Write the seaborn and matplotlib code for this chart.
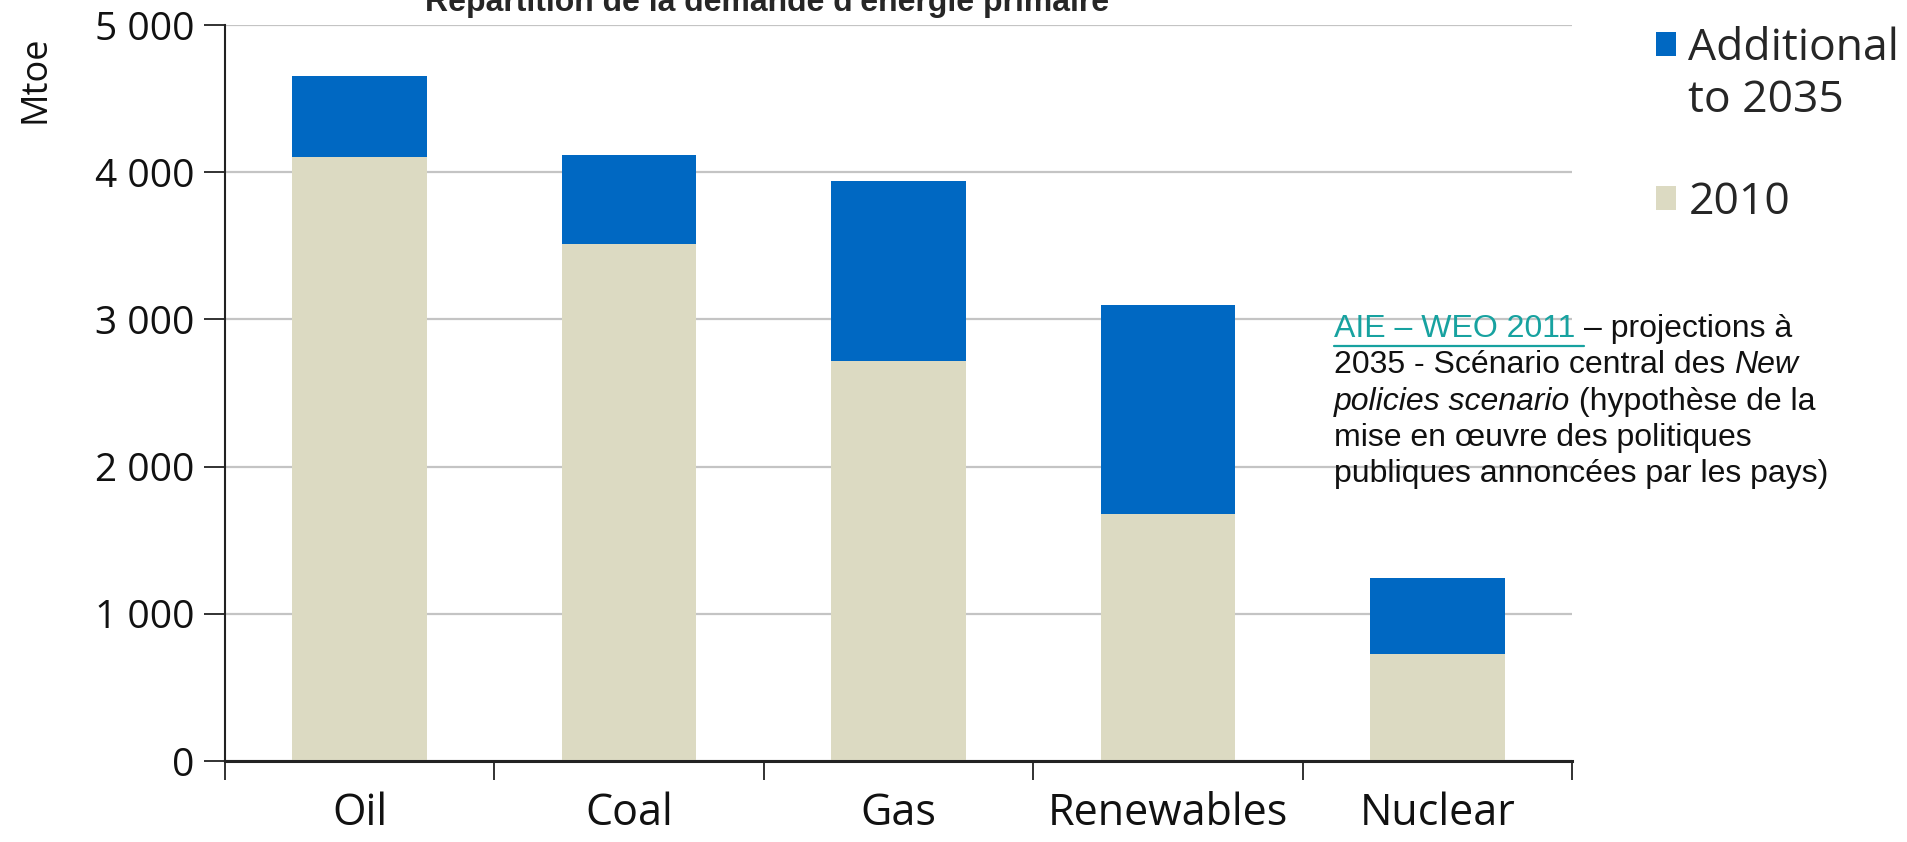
import matplotlib
matplotlib.use("Agg")
import matplotlib.pyplot as plt
import seaborn as sns
import pandas as pd
from matplotlib.patches import Patch, Rectangle
from matplotlib.legend_handler import HandlerPatch

# Données (Mtoe)
categories = ["Oil", "Coal", "Gas", "Renewables", "Nuclear"]
demand_2010 = [4100, 3510, 2720, 1680, 725]
demand_2035 = [4655, 4120, 3940, 3100, 1240]
y_ticks = [0, 1000, 2000, 3000, 4000, 5000]
y_tick_labels = ["0", "1 000", "2 000", "3 000", "4 000", "5 000"]

blue = "#0068C2"
beige = "#DCDAC2"

sns.set_theme(style="white")
plt.rcParams["font.family"] = ["Open Sans", "DejaVu Sans"]

df = pd.DataFrame({"energy": categories, "y2010": demand_2010, "y2035": demand_2035})

W, H = 1907, 842
fig = plt.figure(figsize=(W / 100, H / 100), dpi=100)
ax = fig.add_axes([225 / W, 81 / H, (1572 - 225) / W, (761 - 25) / H])

# total 2035 en bleu, puis 2010 par-dessus
sns.barplot(data=df, x="energy", y="y2035", color=blue, width=0.5, saturation=1, ax=ax, zorder=3)
sns.barplot(data=df, x="energy", y="y2010", color=beige, width=0.5, saturation=1, ax=ax, zorder=3)
for p in ax.patches:
    p.set_edgecolor("none")

ax.set_xlim(-0.5, 4.5)
ax.set_ylim(0, 5000)
ax.set_yticks(y_ticks)
ax.set_yticklabels(y_tick_labels, fontsize=28, color="#111111")
ax.yaxis.grid(True, color="#c4c4c4", linewidth=1.6, zorder=0)
ax.xaxis.grid(False)

# ticks x aux frontières, labels au centre
ax.set_xticks([-0.5, 0.5, 1.5, 2.5, 3.5, 4.5])
ax.set_xticklabels([])
ax.set_xticks(range(len(categories)), minor=True)
ax.set_xticklabels(categories, minor=True, fontsize=31, color="#111111")
ax.tick_params(axis="x", which="major", direction="out", length=14, width=1.3, color="#222222", bottom=True)
ax.tick_params(axis="x", which="minor", length=0, pad=22)
ax.tick_params(axis="y", direction="out", length=15, width=1.3, color="#222222", left=True, pad=7)

ax.set_xlabel("")
ax.set_ylabel("")
fig.text(36 / W, 1 - 79 / H, "Mtoe", rotation=90, ha="center", va="center",
         fontsize=26, color="#111111")

for side in ["top", "right"]:
    ax.spines[side].set_visible(False)
ax.spines["left"].set_color("#222222")
ax.spines["left"].set_linewidth(1.5)
ax.spines["bottom"].set_color("#222222")
ax.spines["bottom"].set_linewidth(2.2)
ax.spines["bottom"].set_zorder(4)

fig.text(767 / W, 1 - 11 / H, "Répartition de la demande d'énergie primaire",
         ha="center", va="baseline", fontsize=23, fontweight="bold",
         family=["Liberation Sans", "DejaVu Sans"])


# carré de la légende aligné sur la première ligne
def top_square(legend, orig_handle, xdescent, ydescent, width, height, fontsize):
    return Rectangle((-xdescent, -ydescent + 0.72 * fontsize), width, height)


def plain_square(legend, orig_handle, xdescent, ydescent, width, height, fontsize):
    return Rectangle((-xdescent, -ydescent), width, height)


h_add = Patch(facecolor=blue, edgecolor="none")
h_2010 = Patch(facecolor=beige, edgecolor="none")
fig.legend([h_add, h_2010], ["Additional\nto 2035", "2010"], loc="upper left",
           bbox_to_anchor=(1656 / W, 1 - 27 / H), frameon=False,
           fontsize=32, handlelength=0.45, handleheight=0.45, handletextpad=0.28,
           labelspacing=1.3, borderaxespad=0, borderpad=0,
           handler_map={h_add: HandlerPatch(patch_func=top_square),
                        h_2010: HandlerPatch(patch_func=plain_square)})

# note de source
note_x = 1334 / W
ann_kw = dict(fontsize=23, va="center", ha="left", family=["Liberation Sans", "DejaVu Sans"])
line_y = [329, 365, 402, 438, 474]


def width_of(t):
    fig.canvas.draw()
    return t.get_window_extent().width / W


link = fig.text(note_x, 1 - line_y[0] / H, "AIE – WEO 2011 ", color="#17A2A0", **ann_kw)
link_w = width_of(link)
fig.add_artist(plt.Line2D([note_x, note_x + link_w], [1 - (line_y[0] + 17) / H] * 2,
                          color="#17A2A0", linewidth=1.6, transform=fig.transFigure))
fig.text(note_x + link_w, 1 - line_y[0] / H, "– projections à", color="#111111", **ann_kw)
t2 = fig.text(note_x, 1 - line_y[1] / H, "2035 - Scénario central des ", color="#111111", **ann_kw)
fig.text(note_x + width_of(t2), 1 - line_y[1] / H, "New", color="#111111", style="italic", **ann_kw)
t3 = fig.text(note_x, 1 - line_y[2] / H, "policies scenario", color="#111111", style="italic", **ann_kw)
fig.text(note_x + width_of(t3), 1 - line_y[2] / H, " (hypothèse de la", color="#111111", **ann_kw)
fig.text(note_x, 1 - line_y[3] / H, "mise en œuvre des politiques", color="#111111", **ann_kw)
fig.text(note_x, 1 - line_y[4] / H, "publiques annoncées par les pays)", color="#111111", **ann_kw)

fig.savefig("out.png", dpi=100)
